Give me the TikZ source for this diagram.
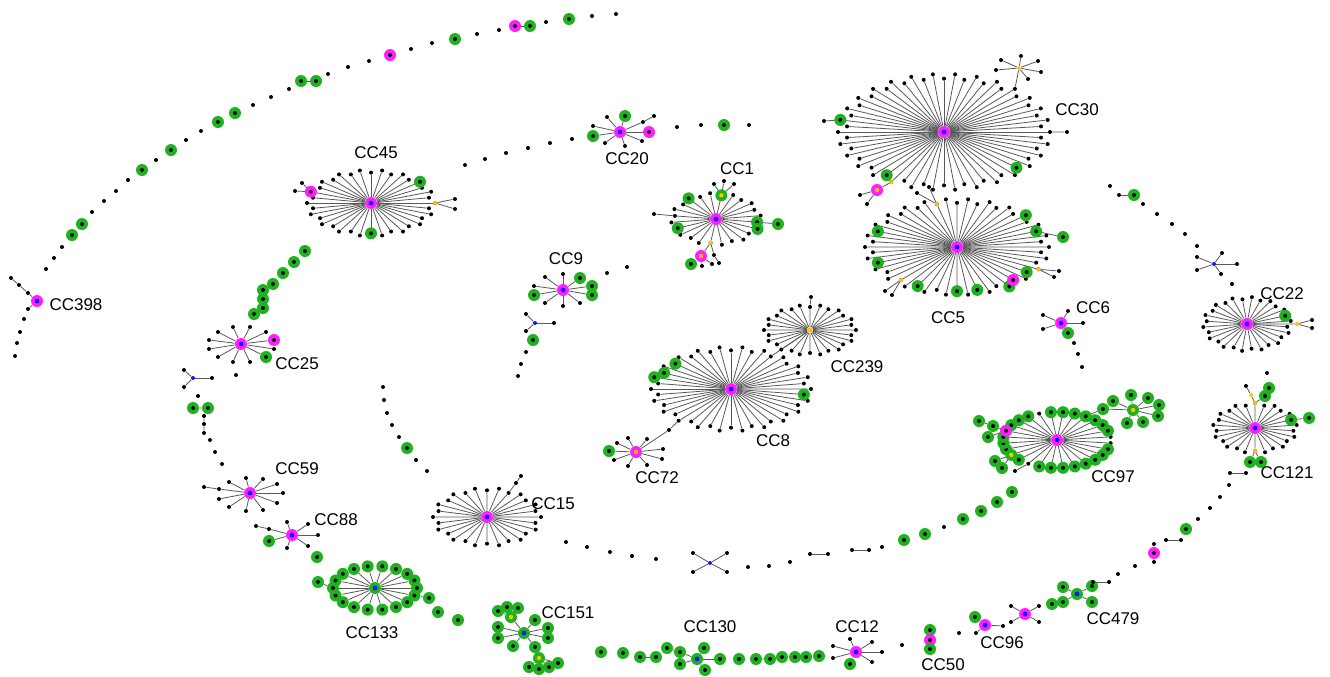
\documentclass[tikz,border=0pt]{standalone}
\usepackage{fontspec}
\setmainfont{Liberation Sans}
\usetikzlibrary{backgrounds}
\definecolor{ngreen}{RGB}{30,178,30}
\definecolor{nmag}{RGB}{255,30,255}
\definecolor{nyel}{RGB}{255,196,0}
\definecolor{nblue}{RGB}{20,20,255}
\tikzset{
  leaf/.style={circle,fill=black,inner sep=0pt,minimum size=2pt},
  yleaf/.style={leaf,fill=nyel},
  bleaf/.style={leaf,fill=nblue},
  gleaf/.style={circle,fill=ngreen,inner sep=0pt,minimum size=6pt,
    path picture={\fill[black] (path picture bounding box.center) circle (1pt);}},
  mleaf/.style={gleaf,fill=nmag},
  gyleaf/.style={circle,fill=ngreen,inner sep=0pt,minimum size=6pt,
    path picture={\fill[nyel] (path picture bounding box.center) circle (1.1pt);}},
  myhub/.style={gyleaf,fill=nmag},
  hub/.style={circle,fill=nmag,inner sep=0pt,minimum size=6pt,
    path picture={\fill[nblue] (path picture bounding box.center) circle (1.2pt);}},
  ghub/.style={hub,fill=ngreen},
  yhub/.style={circle,fill=nyel,inner sep=0pt,minimum size=2.8pt},
  spoke/.style={draw=black!65,line width=0.4pt},
  lab/.style={font=\fontsize{8.5}{10}\selectfont,inner sep=0pt}
}
\begin{document}
\begin{tikzpicture}[x=0.5pt,y=-0.5pt]
\useasboundingbox (0,0) rectangle (1330,676);

\node[hub] (cc30) at (944,132) {};
\foreach \i [evaluate=\i as \a using 6*\i, evaluate={\i as \r using 1-0.08*mod(\i,2)}] in {1,...,60}
  \node[leaf] (cc30-\i) at ([shift={(cc30)}]\a:\r*106 and \r*58) {};
\foreach \i in {7,21,32} \node[gleaf] (cc30-g\i) at (cc30-\i) {};
\node[yleaf] (cc30-y) at (cc30-20) {};
\node[myhub] (cc30-m) at (877,190) {};
\node[leaf] (cc30-m1) at (860,195) {};
\node[leaf] (cc30-m2) at (867,204) {};
\node[leaf] (cc30-a) at (824,121) {};
\node[leaf] (cc30-b) at (1067,132) {};
\node[yleaf] (cc30-s) at (1019,68) {};
\foreach \x/\y [count=\i] in {1001/60,1021/56,1038/61,1041/72,1028/79,996/70}
  \node[leaf] (cc30-s\i) at (\x,\y) {};

\node[hub] (cc5) at (957,247) {};
\foreach \i [evaluate=\i as \a using 6.923*\i, evaluate={\i as \r using 1-0.08*mod(\i,2)}] in {1,...,52}
  \node[leaf] (cc5-\i) at ([shift={(cc5)}]\a:\r*92 and \r*48) {};
\foreach \i in {5,8,11,13,17,23,29,46,49} \node[gleaf] (cc5-g\i) at (cc5-\i) {};
\node[mleaf] (cc5-m) at (cc5-7) {};
\foreach \i in {4,19,37} \node[yleaf] (cc5-y\i) at (cc5-\i) {};
\node[gleaf] (cc5-a) at (1063,237) {};
\node[leaf] (cc5-b1) at (1059,271) {};
\node[leaf] (cc5-b2) at (1054,277) {};
\node[leaf] (cc5-c1) at (885,291) {};
\node[leaf] (cc5-c2) at (892,295) {};
\node[leaf] (cc5-d1) at (917,193) {};
\node[leaf] (cc5-d2) at (929,187) {};

\node[hub] (cc8) at (731,389) {};
\foreach \i [evaluate=\i as \a using 8.1818*\i, evaluate={\i as \r using 1-0.08*mod(\i,2)}] in {1,...,44}
  \node[leaf] (cc8-\i) at ([shift={(cc8)}]\a:\r*80 and \r*42) {};
\foreach \i in {1,24,25,27} \node[gleaf] (cc8-g\i) at (cc8-\i) {};
\node[leaf] (cc8-x) at (669,430) {};

\node[yhub] (cc239) at (810,330) {};
\foreach \i [evaluate=\i as \a using 12.857*\i, evaluate={\i as \r using 1-0.08*mod(\i,2)}] in {1,...,28}
  \node[leaf] (cc239-\i) at ([shift={(cc239)}]\a:\r*46 and \r*25) {};
\node[leaf] (cc239-a) at (811,297) {};

\node[hub] (cc45) at (371,203) {};
\foreach \i [evaluate=\i as \a using 10*\i, evaluate={\i as \r using 1-0.08*mod(\i,2)}] in {1,...,36}
  \node[leaf] (cc45-\i) at ([shift={(cc45)}]\a:\r*64 and \r*33) {};
\foreach \i in {9,32} \node[gleaf] (cc45-g\i) at (cc45-\i) {};
\node[mleaf] (cc45-m) at (cc45-20) {};
\node[yleaf] (cc45-y) at (cc45-36) {};
\node[leaf] (cc45-m1) at (295,191) {};
\node[leaf] (cc45-m2) at (302,183) {};
\node[leaf] (cc45-y1) at (455,199) {};
\node[leaf] (cc45-y2) at (455,209) {};

\node[hub] (cc15) at (487,517) {};
\foreach \i [evaluate=\i as \a using 12.857*\i, evaluate={\i as \r using 1-0.08*mod(\i,2)}] in {1,...,28}
  \node[leaf] (cc15-\i) at ([shift={(cc15)}]\a:\r*54 and \r*29) {};
\node[leaf] (cc15-a) at (516,483) {};
\node[leaf] (cc15-b) at (521,476) {};

\node[hub] (cc22) at (1247,324) {};
\foreach \i [evaluate=\i as \a using 12.857*\i-6.43, evaluate={\i as \r using 1-0.08*mod(\i,2)}] in {1,...,28}
  \node[leaf] (cc22-\i) at ([shift={(cc22)}]\a:\r*44 and \r*27) {};
\node[gleaf] (cc22-g) at (cc22-27) {};
\node[yleaf] (cc22-y) at (1297,324) {};
\node[leaf] (cc22-y1) at (1312,320) {};
\node[leaf] (cc22-y2) at (1312,328) {};

\node[hub] (cc121) at (1255,428) {};
\foreach \i [evaluate=\i as \a using 13.846*\i-6.923, evaluate={\i as \r using 1-0.08*mod(\i,2)}] in {1,...,26}
  \node[leaf] (cc121-\i) at ([shift={(cc121)}]\a:\r*42 and \r*25) {};
\node[yleaf] (cc121-yt) at (cc121-20) {};
\node[yleaf] (cc121-yb) at (cc121-7) {};
\node[gleaf] (cc121-g) at (cc121-25) {};
\node[yleaf] (cc121-a) at (1251,395) {};
\node[leaf] (cc121-b) at (1246,386) {};
\node[gleaf] (cc121-c1) at (1265,396) {};
\node[gleaf] (cc121-c2) at (1269,388) {};
\node[gleaf] (cc121-d) at (1309,418) {};
\node[gleaf] (cc121-e1) at (1250,462) {};
\node[gleaf] (cc121-e2) at (1261,462) {};

\node[hub] (cc97) at (1057,440) {};
\foreach \i [evaluate=\i as \a using 12.857*\i-6.43] in {1,...,28}
  \node[leaf] (cc97-\i) at ([shift={(cc97)}]\a:54 and 28) {};
\foreach \i in {2,...,9,11,13,14,15,17,18,19,21,22,...,27}
  \node[gleaf] (cc97-g\i) at (cc97-\i) {};
\node[mleaf] (cc97-m) at (cc97-16) {};
\node[gyleaf] (cc97-y) at (cc97-12) {};
\node[gleaf] (cc97-m1) at (993,426) {};
\node[gleaf] (cc97-m2) at (979,421) {};
\node[gleaf] (cc97-m3) at (988,437) {};
\node[gleaf] (cc97-y1) at (995,461) {};
\node[gleaf] (cc97-y2) at (1002,468) {};
\node[leaf] (cc97-a) at (1015,471) {};
\node[gleaf] (cc97-b) at (1103,409) {};
\node[gyleaf] (cc97-s) at (1133,410) {};
\foreach \x/\y [count=\i] in {1113/401,1131/395,1148/398,1159/405,1158/416,1143/422,1127/423}
  \node[gleaf] (cc97-s\i) at (\x,\y) {};

\node[ghub] (cc133) at (375,588) {};
\foreach \i [evaluate=\i as \a using 20*\i] in {1,...,18}
  \node[gleaf] (cc133-\i) at ([shift={(cc133)}]\a:42 and 22) {};
\node[gleaf] (cc133-a) at (318,582) {};
\node[gleaf] (cc133-b) at (429,598) {};

\node[hub] (cc1) at (716,219) {};
\foreach \i [evaluate=\i as \a using 15*\i-7.5, evaluate={\i as \r using 1-0.08*mod(\i,2)}] in {1,...,24}
  \node[leaf] (cc1-\i) at ([shift={(cc1)}]\a:\r*45 and \r*26) {};
\foreach \i in {1,2,11,16} \node[gleaf] (cc1-g\i) at (cc1-\i) {};
\node[gyleaf] (cc1-t) at (cc1-19) {};
\node[yleaf] (cc1-y) at (cc1-7) {};
\foreach \x/\y [count=\i] in {714/184,724/181,734/184}
  \node[leaf] (cc1-t\i) at (\x,\y) {};
\node[myhub] (cc1-m) at (701,256) {};
\node[gleaf] (cc1-m1) at (691,264) {};
\node[leaf] (cc1-m2) at (702,266) {};
\node[leaf] (cc1-m3) at (712,264) {};
\node[leaf] (cc1-c1) at (714,255) {};
\node[leaf] (cc1-c2) at (719,263) {};
\node[gleaf] (cc1-a) at (778,224) {};
\node[leaf] (cc1-b) at (654,214) {};

\node[hub] (cc398) at (37,301) {};
\foreach \x/\y/\s [count=\i] in {28/293/leaf,28/309/leaf}
  \node[\s] (cc398-\i) at (\x,\y) {};
\node[leaf] (cc398-a) at (19,285) {};
\node[leaf] (cc398-b) at (11,278) {};

\node[hub] (cc20) at (620,132) {};
\foreach \x/\y/\s [count=\i] in {625/116/gleaf,607/117/leaf,593/126/leaf,593/136/gleaf,605/143/leaf,625/146/leaf,642/141/leaf,649/132/mleaf,643/122/leaf}
  \node[\s] (cc20-\i) at (\x,\y) {};
\node[leaf] (cc20-a) at (654,116) {};

\node[hub] (cc9) at (563,290) {};
\foreach \x/\y/\s [count=\i] in {545/277/leaf,534/286/leaf,534/295/gleaf,545/303/leaf,563/306/leaf,580/303/leaf,592/295/gleaf,592/286/gleaf,580/278/gleaf,563/274/leaf}
  \node[\s] (cc9-\i) at (\x,\y) {};

\node[hub] (cc25) at (241,344) {};
\foreach \x/\y/\s [count=\i] in {218/332/leaf,209/340/leaf,209/349/leaf,218/357/leaf,233/362/leaf,250/362/leaf,250/327/leaf,233/327/leaf,266/332/leaf,274/340/mleaf,274/349/leaf,266/357/gleaf}
  \node[\s] (cc25-\i) at (\x,\y) {};

\node[hub] (cc59) at (250,493) {};
\foreach \x/\y/\s [count=\i] in {219/489/leaf,229/482/leaf,246/478/leaf,263/479/leaf,277/484/leaf,283/493/leaf,277/503/leaf,263/510/leaf,246/511/leaf,229/507/leaf,219/499/leaf}
  \node[\s] (cc59-\i) at (\x,\y) {};
\node[leaf] (cc59-a) at (204,487) {};

\node[hub] (cc88) at (292,535) {};
\foreach \x/\y/\s [count=\i] in {269/529/leaf,269/541/gleaf,287/522/leaf,308/524/leaf,318/535/leaf,308/546/leaf,287/548/leaf}
  \node[\s] (cc88-\i) at (\x,\y) {};
\node[leaf] (cc88-a) at (256,526) {};

\node[hub] (cc6) at (1061,323) {};
\foreach \x/\y/\s [count=\i] in {1043/315/leaf,1043/329/leaf,1068/311/leaf,1083/323/leaf,1068/333/gleaf}
  \node[\s] (cc6-\i) at (\x,\y) {};

\node[myhub] (cc72) at (636,452) {};
\foreach \x/\y/\s [count=\i] in {609/451/gleaf,617/443/leaf,628/438/leaf,647/439/leaf,663/449/leaf,662/459/leaf,647/465/leaf,628/466/leaf,614/460/leaf}
  \node[\s] (cc72-\i) at (\x,\y) {};

\node[hub] (cc12) at (856,652) {};
\foreach \x/\y/\s [count=\i] in {833/646/leaf,833/658/leaf,850/639/leaf,872/642/leaf,882/652/leaf,872/662/leaf,850/664/gleaf}
  \node[\s] (cc12-\i) at (\x,\y) {};

\node[hub] (cc96) at (985,625) {};
\foreach \x/\y/\s [count=\i] in {975/617/gleaf,1003/626/leaf,976/633/leaf}
  \node[\s] (cc96-\i) at (\x,\y) {};

\node[hub] (xs2) at (1025,614) {};
\foreach \x/\y/\s [count=\i] in {1011/606/leaf,1039/606/leaf,1011/622/leaf,1039/622/leaf}
  \node[\s] (xs2-\i) at (\x,\y) {};

\node[ghub] (cc479) at (1077,594) {};
\foreach \x/\y/\s [count=\i] in {1063/587/gleaf,1092/586/gleaf,1063/602/gleaf,1092/602/gleaf}
  \node[\s] (cc479-\i) at (\x,\y) {};

\node[ghub] (cc130) at (697,659) {};
\foreach \x/\y/\s [count=\i] in {704/648/gleaf,680/664/gleaf,705/670/gleaf,720/659/gleaf,680/652/gleaf}
  \node[\s] (cc130-\i) at (\x,\y) {};
\node[gleaf] (cc130-a) at (667,648) {};

\node[ghub] (cc151) at (524,633) {};
\foreach \x/\y/\s [count=\i] in {498/627/gleaf,498/638/gleaf,513/646/gleaf,535/620/gleaf,548/628/gleaf,548/638/gleaf,511/617/gyleaf,535/647/gleaf}
  \node[\s] (cc151-\i) at (\x,\y) {};
\foreach \x/\y [count=\i] in {498/611,507/607,518/608}
  \node[gleaf] (cc151-t\i) at (\x,\y) {};
\node[gyleaf] (cc151-s) at (539,658) {};
\foreach \x/\y [count=\i] in {529/667,539/669,549/667,558/663}
  \node[gleaf] (cc151-s\i) at (\x,\y) {};

\node[bleaf] (ys1) at (193,378) {};
\foreach \x/\y/\s [count=\i] in {184/370/leaf,184/387/leaf,212/378/leaf}
  \node[\s] (ys1-\i) at (\x,\y) {};
\node[bleaf] (ys2) at (535,323) {};
\foreach \x/\y/\s [count=\i] in {526/314/leaf,526/331/leaf,554/323/leaf}
  \node[\s] (ys2-\i) at (\x,\y) {};
\node[bleaf] (ys3) at (1214,264) {};
\foreach \x/\y/\s [count=\i] in {1197/257/leaf,1197/270/leaf,1222/253/leaf,1237/264/leaf,1221/274/leaf}
  \node[\s] (ys3-\i) at (\x,\y) {};
\node[bleaf] (xs1) at (710,563) {};
\foreach \x/\y/\s [count=\i] in {693/553/leaf,727/553/leaf,693/572/leaf,727/572/leaf}
  \node[\s] (xs1-\i) at (\x,\y) {};

\foreach \x/\y/\s [count=\i] in {15/356/leaf,17/343/leaf,20/332/leaf,24/319/leaf,46/269/leaf,54/258/leaf,62/247/leaf,72/235/gleaf,82/224/gleaf,92/212/leaf,104/201/leaf,116/191/leaf,128/180/leaf,142/170/gleaf,156/160/leaf,171/150/gleaf,186/140/leaf,201/131/leaf,218/122/gleaf,235/113/gleaf,253/105/leaf,271/97/leaf,289/89/leaf,328/74/leaf,348/67/leaf,369/61/leaf,390/55/mleaf,411/49/leaf,432/43/leaf,455/39/gleaf,477/34/leaf,499/30/leaf,546/22/leaf,569/19/gleaf,592/16/leaf,616/14/leaf,
  465/165/leaf,485/159/leaf,506/153/leaf,528/148/leaf,550/143/leaf,572/139/leaf,677/127/leaf,701/125/leaf,724/125/gleaf,749/125/leaf,
  305/251/gleaf,294/262/gleaf,283/273/gleaf,273/284/gleaf,254/314/gleaf,236/375/leaf,198/396/leaf,210/440/leaf,215/452/leaf,222/464/leaf,317/557/gleaf,438/612/gleaf,458/620/gleaf,
  383/387/leaf,384/400/leaf,387/413/leaf,392/425/leaf,399/437/leaf,407/448/gleaf,416/460/leaf,427/471/leaf,
  566/542/leaf,587/547/leaf,610/552/leaf,632/556/leaf,656/559/leaf,748/567/leaf,769/566/leaf,790/562/leaf,882/547/leaf,904/540/gleaf,925/534/gleaf,944/527/leaf,963/519/gleaf,981/511/gleaf,997/502/gleaf,1012/492/gleaf,
  601/652/gleaf,623/653/gleaf,739/659/gleaf,819/656/gleaf,902/645/leaf,959/633/leaf,1052/604/gleaf,1118/574/leaf,1135/566/leaf,1186/529/gleaf,1198/519/leaf,1210/508/leaf,1220/497/leaf,1229/485/leaf,
  1110/186/leaf,1143/204/leaf,1157/214/leaf,1172/224/leaf,1185/234/leaf,1197/246/leaf,1232/284/leaf,1267/373/leaf,1074/343/leaf,1078/354/leaf,1082/367/leaf,
  607/273/leaf,627/267/leaf,533/340/gleaf,526/352/leaf,521/364/leaf,518/376/leaf}
  \node[\s] (iso-\i) at (\x,\y) {};

\node[gleaf] (ch1-1) at (263,290) {};
\node[gleaf] (ch1-2) at (263,299) {};
\node[gleaf] (ch1-3) at (263,308) {};
\node[gleaf] (ch2-1) at (193,408) {};
\node[gleaf] (ch2-2) at (208,408) {};
\node[leaf] (ch2-3) at (204,416) {};
\node[leaf] (ch2-4) at (204,424) {};
\node[leaf] (ch2-5) at (204,433) {};
\node[gleaf] (pr1a) at (301,81) {};
\node[gleaf] (pr1b) at (316,81) {};
\node[mleaf] (pr2a) at (515,26) {};
\node[gleaf] (pr2b) at (530,26) {};
\node[leaf] (pr3a) at (810,554) {};
\node[leaf] (pr3b) at (828,554) {};
\node[leaf] (pr4a) at (852,550) {};
\node[leaf] (pr4b) at (869,550) {};
\node[gleaf] (pr5a) at (640,657) {};
\node[gleaf] (pr5b) at (656,657) {};
\node[gleaf] (ch3-1) at (756,659) {};
\node[gleaf] (ch3-2) at (770,659) {};
\node[gleaf] (ch3-3) at (782,657) {};
\node[gleaf] (pr6a) at (795,657) {};
\node[gleaf] (pr6b) at (806,657) {};
\node[leaf] (pr7a) at (1093,582) {};
\node[leaf] (pr7b) at (1109,582) {};
\node[leaf] (pr8a) at (1166,540) {};
\node[leaf] (pr8b) at (1181,540) {};
\node[leaf] (pr9a) at (1230,473) {};
\node[leaf] (pr9b) at (1246,473) {};
\node[leaf] (pr10a) at (1119,195) {};
\node[gleaf] (pr10b) at (1134,195) {};
\node[gleaf] (cc50-1) at (930,630) {};
\node[mleaf] (cc50) at (930,640) {};
\node[gleaf] (cc50-2) at (930,649) {};
\node[leaf] (ch4-1) at (1154,544) {};
\node[mleaf] (ch4-2) at (1154,553) {};
\node[leaf] (ch4-3) at (1154,562) {};

\node[lab] (lab-cc30) at (1077,110) {CC30};
\node[lab] (lab-cc20) at (627,159) {CC20};
\node[lab] (lab-cc1) at (737,169) {CC1};
\node[lab] (lab-cc45) at (376,153) {CC45};
\node[lab] (lab-cc9) at (566,259) {CC9};
\node[lab] (lab-cc398) at (76,305) {CC398};
\node[lab] (lab-cc25) at (297,364) {CC25};
\node[lab] (lab-cc59) at (297,469) {CC59};
\node[lab] (lab-cc88) at (336,520) {CC88};
\node[lab] (lab-cc133) at (372,633) {CC133};
\node[lab] (lab-cc151) at (568,613) {CC151};
\node[lab] (lab-cc130) at (710,627) {CC130};
\node[lab] (lab-cc12) at (857,627) {CC12};
\node[lab] (lab-cc50) at (943,665) {CC50};
\node[lab] (lab-cc96) at (1002,643) {CC96};
\node[lab] (lab-cc479) at (1113,619) {CC479};
\node[lab] (lab-cc121) at (1287,473) {CC121};
\node[lab] (lab-cc97) at (1113,477) {CC97};
\node[lab] (lab-cc8) at (773,441) {CC8};
\node[lab] (lab-cc72) at (657,478) {CC72};
\node[lab] (lab-cc239) at (857,367) {CC239};
\node[lab] (lab-cc15) at (553,504) {CC15};
\node[lab] (lab-cc5) at (948,318) {CC5};
\node[lab] (lab-cc6) at (1093,308) {CC6};
\node[lab] (lab-cc22) at (1282,294) {CC22};

\begin{scope}[on background layer]
  \foreach \n/\k in {cc30/60,cc5/52,cc8/44,cc239/28,cc45/36,cc15/28,cc22/28,cc121/26,cc97/28,cc133/18,cc1/24,
    cc398/2,cc20/9,cc9/10,cc25/12,cc59/11,cc88/7,cc6/5,cc72/9,cc12/7,cc96/3,xs2/4,cc479/4,cc130/5,cc151/8,ys1/3,ys2/3,ys3/5,xs1/4}
    \foreach \i in {1,...,\k} \draw[spoke] (\n) -- (\n-\i);
  \foreach \i in {1,...,6} \draw[spoke] (cc30-s) -- (cc30-s\i);
  \foreach \i in {1,...,7} \draw[spoke] (cc97-s) -- (cc97-s\i);
  \foreach \i in {1,2,3} \draw[spoke] (cc1-19) -- (cc1-t\i);
  \foreach \i in {1,2,3} \draw[spoke] (cc151-7) -- (cc151-t\i);
  \foreach \i in {1,...,4} \draw[spoke] (cc151-s) -- (cc151-s\i);
  \draw[spoke] (cc30-20) -- (cc30-m) (cc30-m) -- (cc30-m1) (cc30-m) -- (cc30-m2)
    (cc30-32) -- (cc30-a) (cc30-60) -- (cc30-b) (cc30-52) -- (cc30-s);
  \draw[spoke] (cc5-49) -- (cc5-a) (cc5-4) -- (cc5-b1) (cc5-4) -- (cc5-b2)
    (cc5-19) -- (cc5-c1) (cc5-19) -- (cc5-c2) (cc5-37) -- (cc5-d1) (cc5-37) -- (cc5-d2);
  \draw[spoke] (cc8-16) -- (cc8-x) (cc8-x) -- (cc72) (cc8-37) -- (cc239) (cc239-21) -- (cc239-a);
  \draw[spoke] (cc45-20) -- (cc45-m1) (cc45-20) -- (cc45-m2) (cc45-36) -- (cc45-y1) (cc45-36) -- (cc45-y2);
  \draw[spoke] (cc15-23) -- (cc15-a) (cc15-a) -- (cc15-b);
  \draw[spoke] (cc22) -- (cc22-y) (cc22-y) -- (cc22-y1) (cc22-y) -- (cc22-y2);
  \draw[spoke] (cc121-20) -- (cc121-a) (cc121-a) -- (cc121-b) (cc121-20) -- (cc121-c1) (cc121-c1) -- (cc121-c2)
    (cc121-25) -- (cc121-d) (cc121-7) -- (cc121-e1) (cc121-7) -- (cc121-e2);
  \draw[spoke] (cc97-16) -- (cc97-m1) (cc97-m1) -- (cc97-m2) (cc97-16) -- (cc97-m3)
    (cc97-12) -- (cc97-y1) (cc97-12) -- (cc97-y2) (cc97-10) -- (cc97-a)
    (cc97-24) -- (cc97-b) (cc97-b) -- (cc97-s);
  \draw[spoke] (cc133-9) -- (cc133-a) (cc133-1) -- (cc133-b);
  \draw[spoke] (cc1-7) -- (cc1-m) (cc1-m) -- (cc1-m1) (cc1-m) -- (cc1-m2) (cc1-m) -- (cc1-m3)
    (cc1-7) -- (cc1-c1) (cc1-c1) -- (cc1-c2) (cc1-1) -- (cc1-a) (cc1-13) -- (cc1-b);
  \draw[spoke] (cc398-1) -- (cc398-a) (cc398-a) -- (cc398-b) (cc20-9) -- (cc20-a)
    (cc59-1) -- (cc59-a) (cc88-1) -- (cc88-a) (cc130-5) -- (cc130-a) (cc151-8) -- (cc151-s);
  \draw[spoke] (ch1-1) -- (ch1-2) (ch1-2) -- (ch1-3)
    (ch2-1) -- (ch2-2) (ch2-2) -- (ch2-3) (ch2-3) -- (ch2-4) (ch2-4) -- (ch2-5)
    (ch3-1) -- (ch3-2) (ch3-2) -- (ch3-3) (ch4-1) -- (ch4-2) (ch4-2) -- (ch4-3)
    (cc50-1) -- (cc50) (cc50) -- (cc50-2);
  \foreach \i in {1,...,10} \draw[spoke] (pr\i a) -- (pr\i b);
\end{scope}
\end{tikzpicture}
\end{document}
